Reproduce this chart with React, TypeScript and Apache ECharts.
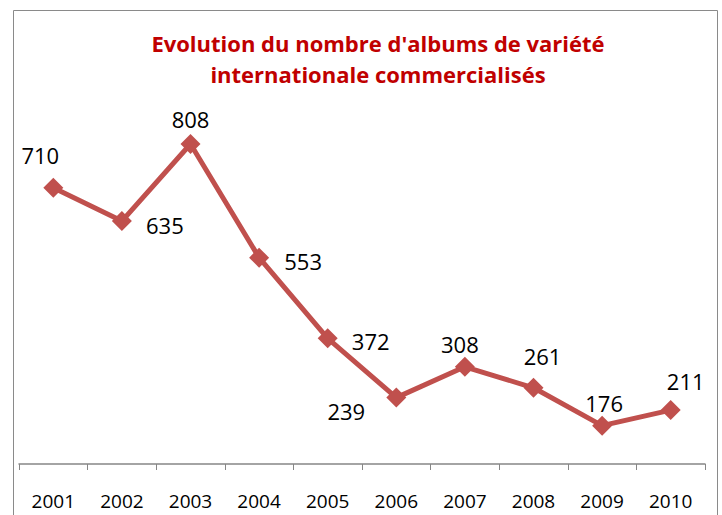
import React, { useEffect, useRef } from "react";
import * as echarts from "echarts";

const years = ["2001", "2002", "2003", "2004", "2005", "2006", "2007", "2008", "2009", "2010"];
const albums = [710, 635, 808, 553, 372, 239, 308, 261, 176, 211];
const labelOffsets: [number, number][] = [
  [-13, -33],
  [43, 4],
  [0, -25],
  [44, 3],
  [43, 3],
  [-50, 13],
  [-5, -23],
  [9, -32],
  [2, -23],
  [15, -29],
];
const titleText = "Evolution du nombre d'albums de variété\ninternationale commercialisés";

export default function App() {
  const ref = useRef<HTMLDivElement>(null);
  useEffect(() => {
    if (!ref.current) return;
    const chart = echarts.init(ref.current, undefined, { renderer: "svg" });
    chart.setOption({
      animation: false,
      backgroundColor: "#ffffff",
      title: {
        text: titleText,
        left: 373,
        top: 22,
        textAlign: "center",
        textStyle: {
          fontFamily: "Open Sans",
          fontWeight: "bold",
          fontSize: 22,
          lineHeight: 31,
          color: "#C00000",
        },
      },
      graphic: [
        {
          type: "rect",
          shape: { x: 13.5, y: 10.5, width: 704, height: 600 },
          style: { fill: "none", stroke: "#8a8a8a", lineWidth: 1 },
          silent: true,
        },
      ],
      grid: { left: 19, right: 17, top: 103, bottom: 51 },
      xAxis: {
        type: "category",
        data: years,
        boundaryGap: true,
        axisLine: { lineStyle: { color: "#868686", width: 1.5 } },
        axisTick: { show: true, length: 6, alignWithLabel: false, lineStyle: { color: "#868686" } },
        axisLabel: {
          color: "#000000",
          fontFamily: "Open Sans",
          fontSize: 19,
          margin: 27,
        },
      },
      yAxis: {
        type: "value",
        min: 90,
        max: 900,
        show: false,
        splitLine: { show: false },
      },
      series: [
        {
          type: "line",
          data: albums.map((v, i) => ({
            value: v,
            label: { offset: labelOffsets[i] },
          })),
          symbol: "diamond",
          symbolSize: 20,
          lineStyle: { color: "#C0504D", width: 5 },
          itemStyle: { color: "#C0504D" },
          label: {
            show: true,
            position: "inside",
            align: "center",
            verticalAlign: "middle",
            color: "#000000",
            fontFamily: "Open Sans",
            fontSize: 22,
          },
        },
      ],
    });
    return () => chart.dispose();
  }, []);
  return (
    <div
      ref={ref}
      style={{ position: "absolute", left: 0, top: 0, width: 722, height: 515 }}
    />
  );
}
